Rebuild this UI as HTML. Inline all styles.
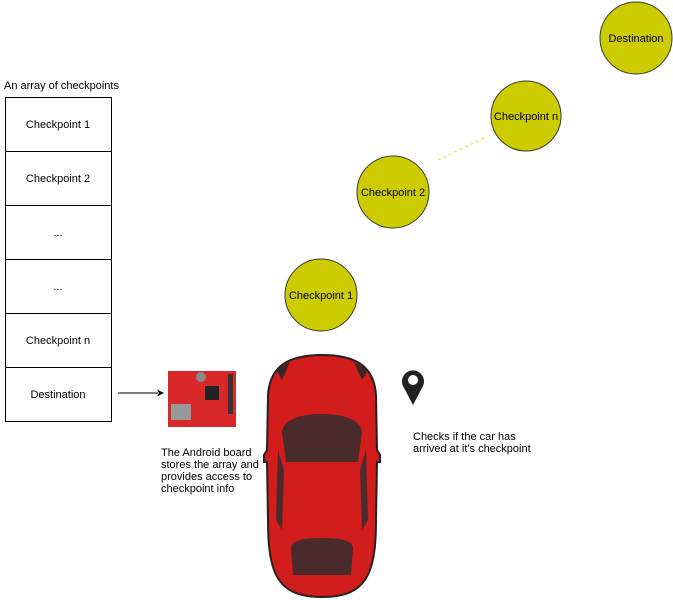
<!DOCTYPE html>
<html><head><style>
body{margin:0;width:673px;height:600px;background:#fff;font-family:"Liberation Sans",sans-serif;position:relative;overflow:hidden}
.t{position:absolute;font-size:11px;color:#000}
</style></head><body>
<div class="t" style="left:4px;top:80px">An array of checkpoints</div>
<svg width="673" height="600" style="position:absolute;left:0;top:0" font-family="Liberation Sans, sans-serif" font-size="11">
<g fill="#fff" stroke="#000" stroke-width="1">
<rect x="5.5" y="97.5" width="106" height="54"/>
<rect x="5.5" y="151.5" width="106" height="54"/>
<rect x="5.5" y="205.5" width="106" height="54"/>
<rect x="5.5" y="259.5" width="106" height="54"/>
<rect x="5.5" y="313.5" width="106" height="54"/>
<rect x="5.5" y="367.5" width="106" height="54"/>
</g>
<g text-anchor="middle" fill="#000">
<text x="58" y="128">Checkpoint 1</text>
<text x="58" y="182">Checkpoint 2</text>
<text x="58" y="236">...</text>
<text x="58" y="290">...</text>
<text x="58" y="344">Checkpoint n</text>
<text x="58" y="398">Destination</text>
</g>
<line x1="118" y1="393" x2="158" y2="393" stroke="#000"/>
<path d="M164,393 L157,389.5 L159,393 L157,396.5Z" fill="#000"/>
<g fill="#cccc00" stroke="#36393d" stroke-width="1">
<circle cx="636" cy="38" r="36"/>
<circle cx="526" cy="116" r="35"/>
<circle cx="393" cy="192" r="36"/>
<circle cx="321" cy="295" r="36"/>
</g>
<line x1="438" y1="160" x2="484" y2="138" stroke="#e6e600" stroke-dasharray="3,3"/>
<g text-anchor="middle" fill="#000">
<text x="636" y="42">Destination</text>
<text x="526" y="120">Checkpoint n</text>
<text x="393" y="196">Checkpoint 2</text>
<text x="321" y="299">Checkpoint 1</text>
</g>
<!-- board -->
<rect x="168" y="371" width="68" height="56" fill="#d8282a"/>
<rect x="171" y="404" width="20" height="16" fill="#999"/>
<rect x="205" y="386" width="14" height="14" fill="#222"/>
<rect x="228" y="374" width="5" height="40" fill="#333"/>
<circle cx="201" cy="377" r="5" fill="#888"/>
<!-- car -->
<path d="M322,355 C290,355 270,365 268,395 L267,450 L264,455 L264,462 L267,462 L268,520 C268,575 278,597 322,597 C366,597 376,575 376,520 L377,462 L380,462 L380,455 L377,450 L376,395 C374,365 354,355 322,355Z" fill="#d31c1c" stroke="#222" stroke-width="2"/>
<path d="M276,370 L290,362 L282,380Z M368,370 L354,362 L362,380Z" fill="#3a2626"/>
<path d="M282,432 C283,420 300,414 322,414 C344,414 361,420 362,432 L358,462 L286,462Z" fill="#4a2a2a"/>
<path d="M291,548 C291,540 305,538 322,538 C339,538 353,540 353,548 L351,575 L293,575Z" fill="#4a2a2a"/>
<path d="M278,450 L284,470 L282,530 L276,520Z M366,450 L360,470 L362,530 L368,520Z" fill="#4a2a2a"/>
<!-- pin -->
<path d="M413,405 L403,386 A11,11 0 1 1 423,386Z" fill="#222"/>
<circle cx="413" cy="380" r="5" fill="#fff"/>
</svg>
<div class="t" style="left:161px;top:447px;line-height:12px">The Android board<br>stores the array and<br>provides access to<br>checkpoint info</div>
<div class="t" style="left:413px;top:431px;line-height:12px">Checks if the car has<br>arrived at it's checkpoint</div>
</body></html>
